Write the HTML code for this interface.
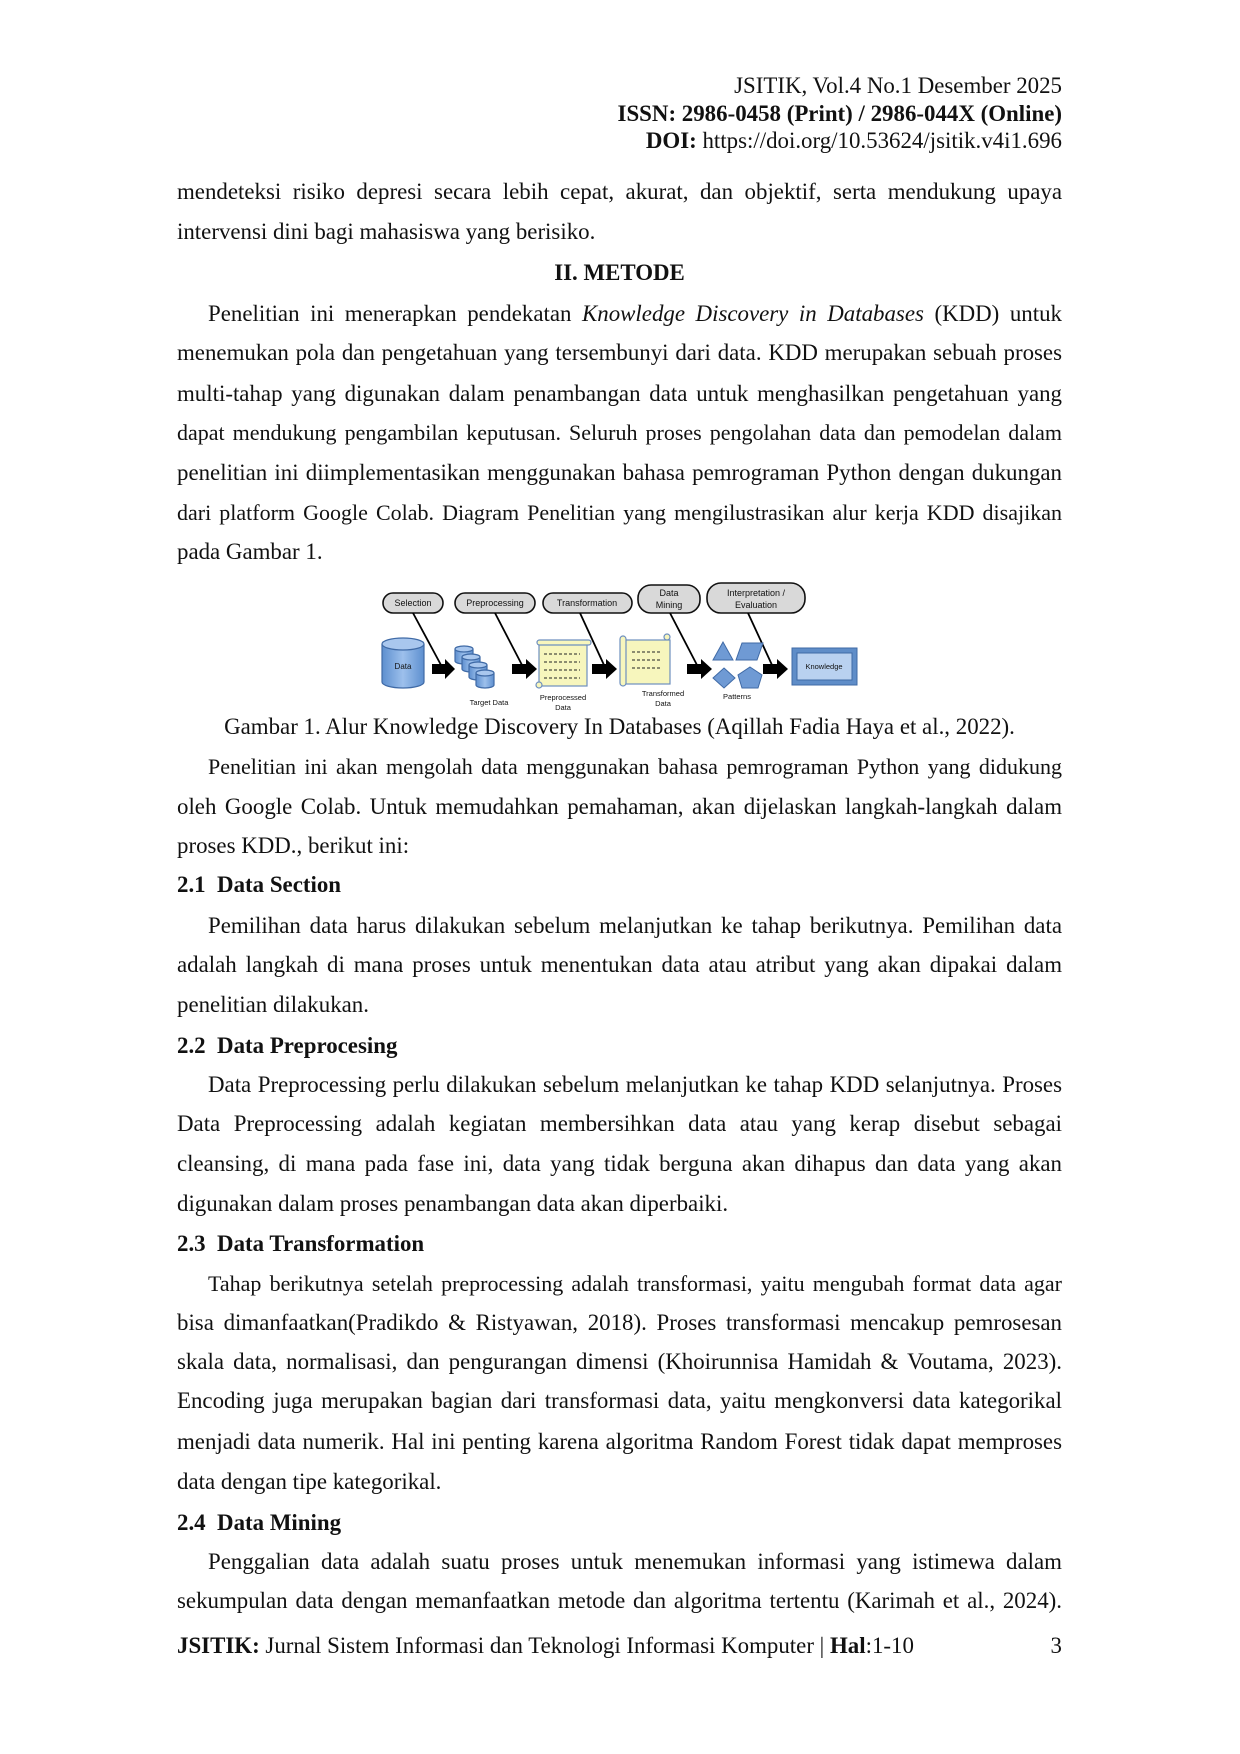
<!DOCTYPE html>
<html><head><meta charset="utf-8">
<style>
html,body{margin:0;padding:0;background:#fff}
#p{position:relative;width:1240px;height:1754px;overflow:hidden;font-family:"Liberation Serif",serif;color:#111;font-size:22.9px}
.l{position:absolute;left:177px;width:885px;height:26px;line-height:26px;white-space:nowrap}
.j{text-align:justify;text-align-last:justify;white-space:normal}
.s{font-size:22px}
.r{text-align:right}
.c{text-align:center}
.h{font-weight:bold}
.i{text-indent:31px}
svg text{font-family:"Liberation Sans",sans-serif}
</style></head><body><div id="p">
<div class="l r" style="top:73px">JSITIK, Vol.4 No.1 Desember 2025</div>
<div class="l r h" style="top:101px">ISSN: 2986-0458 (Print) / 2986-044X (Online)</div>
<div class="l r" style="top:128px"><b>DOI:</b> https://doi.org/10.53624/jsitik.v4i1.696</div>

<div class="l j" style="top:179px">mendeteksi risiko depresi secara lebih cepat, akurat, dan objektif, serta mendukung upaya</div>
<div class="l" style="top:219px">intervensi dini bagi mahasiswa yang berisiko.</div>
<div class="l c h" style="top:260px">II. METODE</div>
<div class="l j i" style="top:301px">Penelitian ini menerapkan pendekatan <i>Knowledge Discovery in Databases</i> (KDD) untuk</div>
<div class="l j" style="top:340px">menemukan pola dan pengetahuan yang tersembunyi dari data. KDD merupakan sebuah proses</div>
<div class="l j" style="top:381px">multi-tahap yang digunakan dalam penambangan data untuk menghasilkan pengetahuan yang</div>
<div class="l j s" style="top:420px">dapat mendukung pengambilan keputusan. Seluruh proses pengolahan data dan pemodelan dalam</div>
<div class="l j" style="top:460px">penelitian ini diimplementasikan menggunakan bahasa pemrograman Python dengan dukungan</div>
<div class="l j s" style="top:500px">dari platform Google Colab. Diagram Penelitian yang mengilustrasikan alur kerja KDD disajikan</div>
<div class="l" style="top:539px">pada Gambar 1.</div>

<svg style="position:absolute;left:0;top:0" width="1240" height="760" viewBox="0 0 1240 760">
<defs>
<linearGradient id="cy" x1="0" x2="1"><stop offset="0" stop-color="#5d8fcf"/><stop offset=".5" stop-color="#9dc0ec"/><stop offset="1" stop-color="#5d8fcf"/></linearGradient>
</defs>
<g stroke="#111" stroke-width="1.6" fill="#d9d9d9">
<rect x="383" y="593" width="60" height="20" rx="10"/>
<rect x="455" y="593" width="80" height="20" rx="10"/>
<rect x="543" y="593" width="89" height="20" rx="10"/>
<rect x="638" y="585" width="62" height="28" rx="13"/>
<rect x="707" y="583" width="98" height="30" rx="14"/>
</g>
<g font-size="9" fill="#111" text-anchor="middle">
<text x="413" y="606">Selection</text>
<text x="495" y="606">Preprocessing</text>
<text x="587" y="606">Transformation</text>
<text x="669" y="596">Data</text><text x="669" y="608">Mining</text>
<text x="756" y="596">Interpretation /</text><text x="756" y="608">Evaluation</text>
</g>
<g stroke="#000" stroke-width="1.8">
<line x1="413" y1="613" x2="441" y2="665"/>
<line x1="495" y1="613" x2="522" y2="665"/>
<line x1="580" y1="613" x2="604" y2="665"/>
<line x1="670" y1="613" x2="697" y2="665"/>
<line x1="748" y1="613" x2="772" y2="665"/>
</g>
<g fill="#000">
<polygon points="432,664 445,664 445,659 455,669 445,679 445,674 432,674"/>
<polygon points="512,664 526,664 526,659 537,669 526,679 526,674 512,674"/>
<polygon points="592,664 606,664 606,659 617,669 606,679 606,674 592,674"/>
<polygon points="687,664 701,664 701,659 712,669 701,679 701,674 687,674"/>
<polygon points="763,664 777,664 777,659 788,669 777,679 777,674 763,674"/>
</g>
<g stroke="#3f6aa6" stroke-width="1.2">
<path d="M382 644 v38 a21 6 0 0 0 42 0 v-38" fill="url(#cy)"/>
<ellipse cx="403" cy="644" rx="21" ry="6" fill="#a9c7ee"/>
<path d="M455 649 v12 a9 3 0 0 0 18 0 v-12" fill="url(#cy)"/><ellipse cx="464" cy="649" rx="9" ry="3" fill="#a9c7ee"/>
<path d="M462 657 v12 a9 3 0 0 0 18 0 v-12" fill="url(#cy)"/><ellipse cx="471" cy="657" rx="9" ry="3" fill="#a9c7ee"/>
<path d="M469 665 v12 a9 3 0 0 0 18 0 v-12" fill="url(#cy)"/><ellipse cx="478" cy="665" rx="9" ry="3" fill="#a9c7ee"/>
<path d="M476 673 v12 a9 3 0 0 0 18 0 v-12" fill="url(#cy)"/><ellipse cx="485" cy="673" rx="9" ry="3" fill="#a9c7ee"/>
</g>
<text x="403" y="669" font-size="8" text-anchor="middle" fill="#111">Data</text>
<g stroke="#6d8fbf" stroke-width="1.2" fill="#f7f6bd">
<rect x="539" y="642" width="48" height="44"/>
<rect x="537" y="640" width="54" height="5" rx="2.5"/>
<rect x="624" y="640" width="46" height="44"/>
<rect x="620" y="636" width="6" height="50" rx="3"/>
<circle cx="667" cy="637" r="3"/>
<circle cx="539" cy="685" r="3"/>
</g>
<g stroke="#222" stroke-width="1" stroke-dasharray="3,2">
<line x1="544" y1="654" x2="580" y2="654"/><line x1="544" y1="662" x2="580" y2="662"/><line x1="544" y1="670" x2="580" y2="670"/><line x1="544" y1="678" x2="580" y2="678"/>
<line x1="632" y1="652" x2="660" y2="652"/><line x1="632" y1="660" x2="660" y2="660"/><line x1="632" y1="668" x2="660" y2="668"/>
</g>
<g fill="#6f9ad4" stroke="#3f6aa6" stroke-width="1">
<polygon points="723,642 713,660 733,660"/>
<polygon points="742,643 763,643 757,660 736,660"/>
<polygon points="724,668 735,678 724,688 713,678"/>
<polygon points="750,667 762,675 758,688 742,688 738,675"/>
</g>
<rect x="792" y="648" width="65" height="37" fill="#5f8dc8" stroke="#3f6aa6"/>
<rect x="797" y="653" width="55" height="27" fill="#b9d1f0" stroke="#3f6aa6"/>
<g font-size="7.5" fill="#111" text-anchor="middle">
<text x="824" y="669">Knowledge</text>
<text x="489" y="705">Target Data</text>
<text x="563" y="700">Preprocessed</text><text x="563" y="710">Data</text>
<text x="663" y="696">Transformed</text><text x="663" y="706">Data</text>
<text x="737" y="699">Patterns</text>
</g>
</svg>

<div class="l c" style="top:714px">Gambar 1. Alur Knowledge Discovery In Databases (Aqillah Fadia Haya et al., 2022).</div>
<div class="l j i s" style="top:754px">Penelitian ini akan mengolah data menggunakan bahasa pemrograman Python yang didukung</div>
<div class="l j" style="top:794px">oleh Google Colab. Untuk memudahkan pemahaman, akan dijelaskan langkah-langkah dalam</div>
<div class="l" style="top:833px">proses KDD., berikut ini:</div>
<div class="l h" style="top:872px">2.1&nbsp; Data Section</div>
<div class="l j i" style="top:913px">Pemilihan data harus dilakukan sebelum melanjutkan ke tahap berikutnya. Pemilihan data</div>
<div class="l j" style="top:952px">adalah langkah di mana proses untuk menentukan data atau atribut yang akan dipakai dalam</div>
<div class="l" style="top:992px">penelitian dilakukan.</div>
<div class="l h" style="top:1033px">2.2&nbsp; Data Preprocesing</div>
<div class="l j i" style="top:1072px">Data Preprocessing perlu dilakukan sebelum melanjutkan ke tahap KDD selanjutnya. Proses</div>
<div class="l j" style="top:1111px">Data Preprocessing adalah kegiatan membersihkan data atau yang kerap disebut sebagai</div>
<div class="l j" style="top:1151px">cleansing, di mana pada fase ini, data yang tidak berguna akan dihapus dan data yang akan</div>
<div class="l" style="top:1191px">digunakan dalam proses penambangan data akan diperbaiki.</div>
<div class="l h" style="top:1231px">2.3&nbsp; Data Transformation</div>
<div class="l j i s" style="top:1271px">Tahap berikutnya setelah preprocessing adalah transformasi, yaitu mengubah format data agar</div>
<div class="l j" style="top:1310px">bisa dimanfaatkan(Pradikdo &amp; Ristyawan, 2018). Proses transformasi mencakup pemrosesan</div>
<div class="l j" style="top:1349px">skala data, normalisasi, dan pengurangan dimensi (Khoirunnisa Hamidah &amp; Voutama, 2023).</div>
<div class="l j" style="top:1388px">Encoding juga merupakan bagian dari transformasi data, yaitu mengkonversi data kategorikal</div>
<div class="l j" style="top:1429px">menjadi data numerik. Hal ini penting karena algoritma Random Forest tidak dapat memproses</div>
<div class="l" style="top:1469px">data dengan tipe kategorikal.</div>
<div class="l h" style="top:1510px">2.4&nbsp; Data Mining</div>
<div class="l j i" style="top:1549px">Penggalian data adalah suatu proses untuk menemukan informasi yang istimewa dalam</div>
<div class="l j" style="top:1588px">sekumpulan data dengan memanfaatkan metode dan algoritma tertentu (Karimah et al., 2024).</div>
<div class="l" style="top:1633px"><b>JSITIK:</b> Jurnal Sistem Informasi dan Teknologi Informasi Komputer | <b>Hal</b>:1-10</div>
<div class="l r" style="top:1633px">3</div>
</div></body></html>
